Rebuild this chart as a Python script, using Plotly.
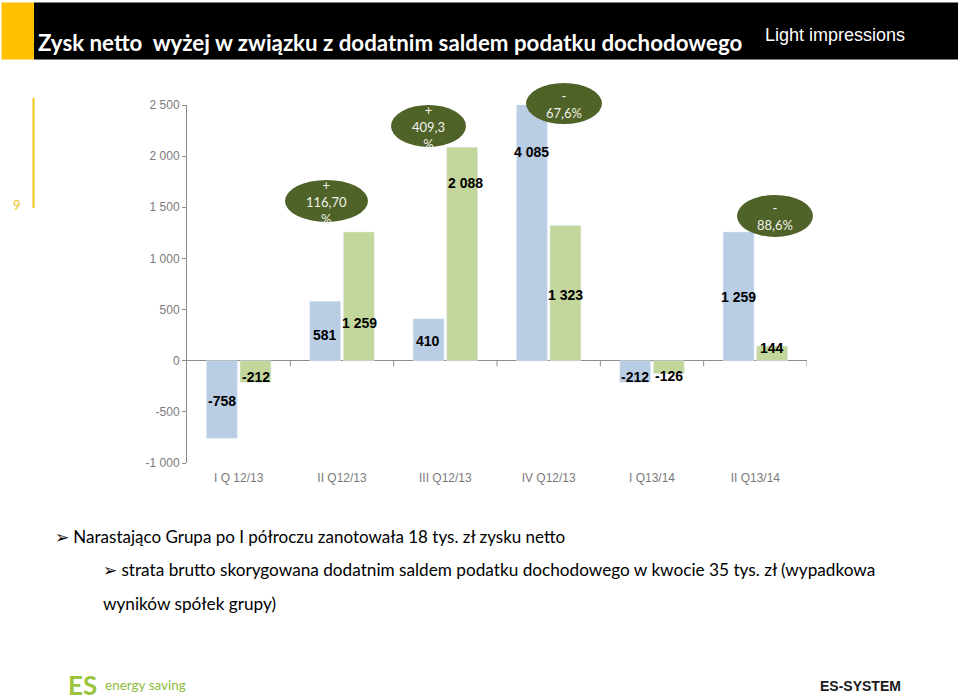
import plotly.graph_objects as go

# ---------------- data ----------------
categories = ["I Q 12/13", "II Q12/13", "III Q12/13", "IV Q12/13", "I Q13/14", "II Q13/14"]
series_a = [-758, 581, 410, 4085, -212, 1259]     # blue bars
series_b = [-212, 1259, 2088, 1323, -126, 144]    # green bars
labels_a = ["-758", "581", "410", "4 085", "-212", "1 259"]
labels_b = ["-212", "1 259", "2 088", "1 323", "-126", "144"]
y_tick_vals = [-1000, -500, 0, 500, 1000, 1500, 2000, 2500]
y_tick_text = ["-1 000", "-500", "0", "500", "1 000", "1 500", "2 000", "2 500"]
bubble_texts = ["+<br>116,70<br>%", "+<br>409,3<br>%", "-<br>67,6%", "-<br>88,6%"]

# ---------------- style ----------------
BLUE = "#B9CDE5"
GREEN = "#C3D69B"
OLIVE = "#4F6228"
AXIS = "#8C8C8C"
TICKFONT = "#7A7A7A"
GOLD = "#F0C419"

W, H = 960, 700
PL, PR, PT, PB = 187, 807, 105, 463.3  # plot area pixels


def px(x):
    return (x - PL) / (PR - PL)


def py(y):
    return (PB - y) / (PB - PT)


def label(x, y, text, size, color, family="Lato", xanchor="left", bold=False):
    t = f"<b>{text}</b>" if bold else text
    return dict(x=px(x), y=py(y), xref="paper", yref="paper", xanchor=xanchor,
                yanchor="middle", text=t, showarrow=False, align="center",
                font=dict(family=family, size=size, color=color))


fig = go.Figure()
fig.add_trace(go.Bar(x=categories, y=series_a, marker_color=BLUE, name="A",
                     hoverinfo="x+y"))
fig.add_trace(go.Bar(x=categories, y=series_b, marker_color=GREEN, name="B",
                     hoverinfo="x+y"))

annotations = []
shapes = []

# data labels (centred in bars, some moved by hand as in the original)
yshift_a = [-2, -4, -1, 0, -5, -1]
yshift_b = [-5, -27, 71, -2, -9, 5]
xshift_b_extra = [0, 0, 3, 0, 0, 0]
for i, c in enumerate(categories):
    annotations.append(dict(x=c, y=series_a[i] / 2, xref="x", yref="y", text=f"<b>{labels_a[i]}</b>",
                            showarrow=False, xshift=-17, yshift=yshift_a[i],
                            xanchor="center", yanchor="middle",
                            font=dict(family="Liberation Sans", size=14, color="black")))
    annotations.append(dict(x=c, y=series_b[i] / 2, xref="x", yref="y", text=f"<b>{labels_b[i]}</b>",
                            showarrow=False, xshift=17 + xshift_b_extra[i], yshift=yshift_b[i],
                            xanchor="center", yanchor="middle",
                            font=dict(family="Liberation Sans", size=14, color="black")))

# tick marks on the zero line at category boundaries
for k in range(len(categories)):
    shapes.append(dict(type="line", xref="x", yref="y", x0=k + 0.5, x1=k + 0.5,
                       y0=0, y1=-55, line=dict(color=AXIS, width=1)))

# bubbles
bubbles = [(285, 180, 368, 222), (391, 105, 466, 147), (526, 83, 602, 124), (737, 195, 813, 237)]
text_y = [202, 127, 104, 217]
for (x0, y0, x1, y1), t, ty in zip(bubbles, bubble_texts, text_y):
    shapes.append(dict(type="circle", xref="paper", yref="paper",
                       x0=px(x0), x1=px(x1), y0=py(y1), y1=py(y0),
                       fillcolor=OLIVE, line=dict(width=0), layer="above"))
    annotations.append(label((x0 + x1) / 2, ty, t, 13, "#F2F2EA", xanchor="center"))

# header bar
shapes.append(dict(type="rect", xref="paper", yref="paper", x0=px(34), x1=px(958),
                   y0=py(59.5), y1=py(2.5), fillcolor="black", line=dict(width=0), layer="below"))
shapes.append(dict(type="rect", xref="paper", yref="paper", x0=px(1.5), x1=px(34),
                   y0=py(59.5), y1=py(2.5), fillcolor="#FFC000", line=dict(width=0), layer="below"))
annotations.append(label(36, 42, "Zysk netto  wyżej w związku z dodatnim saldem podatku dochodowego",
                         22.3, "white", bold=True))
annotations.append(label(763, 35, "Light impressions", 18, "white", family="Liberation Sans"))

# slide number and gold line
shapes.append(dict(type="line", xref="paper", yref="paper", x0=px(33.5), x1=px(33.5),
                   y0=py(208), y1=py(98), line=dict(color=GOLD, width=2)))
annotations.append(label(17, 205, "9", 13, GOLD, xanchor="center"))

# bullet text
annotations.append(label(53, 537, "➢ Narastająco Grupa po I półroczu zanotowała 18 tys. zł zysku netto",
                         17, "black"))
annotations.append(label(101, 570, "➢ strata brutto skorygowana dodatnim saldem podatku dochodowego w kwocie 35 tys. zł (wypadkowa",
                         17.2, "black"))
annotations.append(label(101, 604, "wyników spółek grupy)", 17.2, "black"))

# logos
annotations.append(label(66, 685, "ES", 26, "#9BC53D", bold=True))
annotations.append(label(103, 685, "energy saving", 13.5, "#8DBB3A"))
annotations.append(label(818, 686, "ES-SYSTEM", 14, "#1A1A1A", family="Liberation Sans", bold=True))

fig.update_layout(
    width=W, height=H, autosize=False,
    margin=dict(l=PL, r=W - PR, t=PT, b=H - PB),
    paper_bgcolor="white", plot_bgcolor="white",
    barmode="group", bargap=0.35, bargroupgap=0.08,
    showlegend=False,
    font=dict(family="Liberation Sans"),
    annotations=annotations, shapes=shapes,
)
fig.update_xaxes(range=[-0.5, 5.5], showline=False, ticks="", showgrid=False, zeroline=False,
                 tickfont=dict(family="Liberation Sans", size=12, color=TICKFONT),
                 ticklabelstandoff=6)
fig.update_yaxes(range=[-1000, 2500], tickvals=y_tick_vals, ticktext=y_tick_text,
                 showline=True, linecolor=AXIS, linewidth=1, ticks="outside", ticklen=4,
                 tickcolor=AXIS, showgrid=False, zeroline=True, zerolinecolor=AXIS,
                 zerolinewidth=1, tickfont=dict(family="Liberation Sans", size=12, color=TICKFONT))

fig.write_html("out.html", config={"displayModeBar": False},
               post_script="document.body.style.margin='0';")
